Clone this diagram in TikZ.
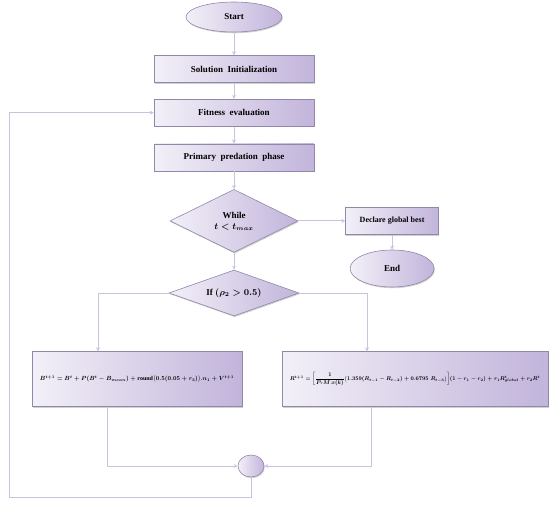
\documentclass[tikz,border=0pt]{standalone}
\usepackage{amsmath}
\usepackage{graphicx}
\usepackage{fontspec}
\setmainfont{Liberation Serif}
\usetikzlibrary{arrows.meta,positioning,shapes.geometric,shadows}

\definecolor{lavline}{HTML}{C9C3DE}
\definecolor{lavedge}{HTML}{8F88A8}
\definecolor{lavdark}{HTML}{C2B4DB}
\definecolor{lavlight}{HTML}{F3F0F8}

\begin{document}
\begin{tikzpicture}[
    node distance=17pt,
    every node/.style={font=\fontsize{9}{11}\selectfont\bfseries\boldmath},
    shaded/.style={draw=lavedge, line width=0.6pt, left color=lavlight, right color=lavdark,
        drop shadow={shadow xshift=0.8pt, shadow yshift=-1.2pt, fill=black, opacity=0.18}},
    terminal/.style={shaded, ellipse, minimum width=96pt, minimum height=30pt, inner sep=0pt},
    process/.style={shaded, rectangle, minimum width=160pt, minimum height=27pt},
    decision/.style={shaded, diamond, aspect=2, inner sep=0pt, align=center},
    formula/.style={shaded, rectangle, minimum height=55pt, inner sep=2pt},
    link/.style={draw=lavline, line width=1pt},
    arrow/.style={link, -{Stealth[length=4pt, width=4pt]}},
]
    \useasboundingbox (0pt,0pt) rectangle (550pt,-506pt);

    \node[terminal] (start) at (234pt,-17pt) {Start};
    \node[process, below=23pt of start] (init) {Solution\ \ Initialization};
    \node[process, below=16pt of init] (fitness) {Fitness\ \ evaluation};
    \node[process, below=17pt of fitness] (predation) {Primary\ \ predation\ \ phase};
    \node[decision, below=18pt of predation, minimum width=128pt, minimum height=63pt] (while) {While\\ $t<t_{max}$};
    \node[decision, below=17pt of while, minimum width=130pt, minimum height=46pt] (cond) {If $(\rho_2>0.5)$};

    \node[process, right=47pt of while, minimum width=93pt, font=\fontsize{8}{10}\selectfont\bfseries] (declare) {Declare global best};
    \node[terminal, below=15pt of declare, minimum width=84pt, minimum height=37pt] (end) {End};

    % the two position updates
    \node[formula, minimum width=210pt, below=35pt of cond, xshift=-97pt] (updleft)
        {\resizebox{194pt}{!}{$B^{t+1}=B^{t}+P(B^{t}-B_{mean})+\mathrm{round}\big(0.5(0.05+r_3)\big).n_1+V^{t+1}$}};
    \node[formula, minimum width=266pt, below=35pt of cond, xshift=181pt] (updright)
        {\resizebox{250pt}{!}{$R^{t+1}=\left[\dfrac{1}{P_rM\,x(k)}\big(1.359(R_{t-1}-R_{t-2})+0.6795\;R_{t-3}\big)\right]\!(1-r_1-r_2)+r_1R^{t}_{global}+r_2R^{t}$}};

    \node[shaded, ellipse, minimum width=26pt, minimum height=22pt, inner sep=0pt] (merge) at (251pt,-466pt) {};
    \coordinate (corner) at (9pt,-497pt);

    \draw[arrow] (start) -- (init);
    \draw[arrow] (init) -- (fitness);
    \draw[arrow] (fitness) -- (predation);
    \draw[arrow] (predation) -- (while);
    \draw[arrow] (while) -- (cond);
    \draw[arrow] (while) -- (declare);
    \draw[arrow] (declare) -- (end);

    \draw[arrow] (cond.west) -| ([xshift=-39pt]updleft.north);
    \draw[arrow] (cond.east) -| ([xshift=-48pt]updright.north);
    \draw[arrow] ([xshift=-30pt]updleft.south) |- (merge.west);
    \draw[arrow] ([xshift=-44pt]updright.south) |- (merge.east);

    % back to fitness evaluation
    \draw[arrow] (merge.south) |- (corner) |- (fitness.west);
\end{tikzpicture}
\end{document}
